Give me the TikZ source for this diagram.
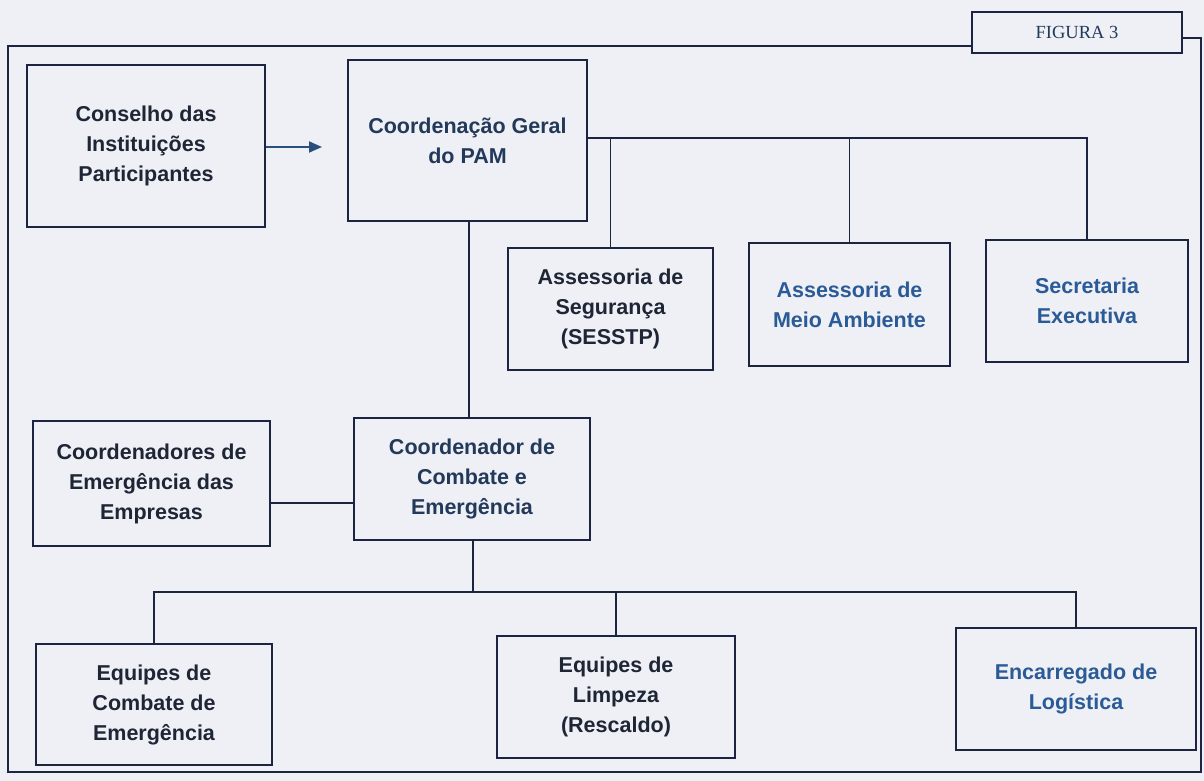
\documentclass[tikz,border=0pt]{standalone}
\usepackage{fontspec}
\setmainfont{Liberation Sans}
\newfontfamily\figfont{Liberation Serif}
\usetikzlibrary{arrows.meta}
\definecolor{bgc}{HTML}{EEF0F6}
\definecolor{linec}{HTML}{1B2440}
\definecolor{txdark}{HTML}{1E2535}
\definecolor{txmid}{HTML}{22395A}
\definecolor{txblue}{HTML}{2B5B97}
\definecolor{arrc}{HTML}{2A4F7A}
\tikzset{
  x=1pt,y=-1pt,
  orgbox/.style={draw=linec,line width=2.2pt,align=center,font=\fontsize{21.5}{30}\selectfont\bfseries,text=txdark,inner sep=0pt},
  conn/.style={draw=linec,line width=1.4pt},
  frame/.style={draw=linec,line width=1.6pt}
}
\begin{document}
\begin{tikzpicture}
\fill[bgc] (0,0) rectangle (1204,781);
\useasboundingbox (0,0) rectangle (1204,781);
% outer frame and title
\node[draw=linec,line width=1.6pt,minimum width=210pt,minimum height=41pt,inner sep=0pt,text=txmid,font=\fontsize{18.5}{22}\selectfont\figfont] (fig) at (1077,32.5) {FIGURA 3};
\coordinate (ftl) at (8,46);
\coordinate (fbl) at (8,772);
\coordinate (fbr) at (1201,772);
\coordinate (ftr) at (1201,38);
\draw[frame] (fig.west |- ftl) -- (ftl) -- (fbl) -- (fbr) -- (ftr) -- (fig.east |- ftr);
% boxes
\node[orgbox,minimum width=238pt,minimum height=162pt] (cons) at (146,146) {Conselho das\\Instituições\\Participantes};
\node[orgbox,minimum width=239pt,minimum height=161pt,text=txmid] (cg) at (467.5,140.5) {Coordenação Geral\\do PAM};
\node[orgbox,minimum width=205pt,minimum height=122pt] (aseg) at (610.5,309) {Assessoria de\\Segurança\\(SESSTP)};
\node[orgbox,minimum width=201pt,minimum height=123pt,text=txblue] (amb) at (849.5,304.5) {Assessoria de\\Meio Ambiente};
\node[orgbox,minimum width=202pt,minimum height=122pt,text=txblue] (sec) at (1087,301) {Secretaria\\Executiva};
\node[orgbox,minimum width=236pt,minimum height=122pt,text=txmid] (cce) at (472,479) {Coordenador de\\Combate e\\Emergência};
\node[orgbox,minimum width=237pt,minimum height=125pt] (cemp) at (151.5,483.5) {Coordenadores de\\Emergência das\\Empresas};
\node[orgbox,minimum width=236pt,minimum height=121pt] (ecomb) at (154,704.5) {Equipes de\\Combate de\\Emergência};
\node[orgbox,minimum width=238pt,minimum height=122pt] (elimp) at (616,697) {Equipes de\\Limpeza\\(Rescaldo)};
\node[orgbox,minimum width=240pt,minimum height=122pt,text=txblue] (enc) at (1076,689) {Encarregado de\\Logística};
% connectors
\coordinate (arrend) at (322,147);
\draw[draw=arrc,line width=1.8pt,-{Triangle[length=13pt,width=11pt]}] (cons.east |- arrend) -- (arrend);
\coordinate (topbus) at (0,138);
\draw[conn] (cg.east |- topbus) -- (sec.north |- topbus) -- (sec.north);
\draw[conn] (aseg.north |- topbus) -- (aseg.north);
\draw[conn] (amb.north |- topbus) -- (amb.north);
\draw[conn] (cg.south -| 469,0) -- (cce.north -| 469,0);
\coordinate (midl) at (0,503);
\draw[conn] (cemp.east |- midl) -- (cce.west |- midl);
\coordinate (botbus) at (0,592);
\draw[conn] (cce.south -| 473,0) -- (473,592);
\draw[conn] (ecomb.north) -- (ecomb.north |- botbus) -- (enc.north |- botbus) -- (enc.north);
\draw[conn] (elimp.north |- botbus) -- (elimp.north);
\end{tikzpicture}
\end{document}
